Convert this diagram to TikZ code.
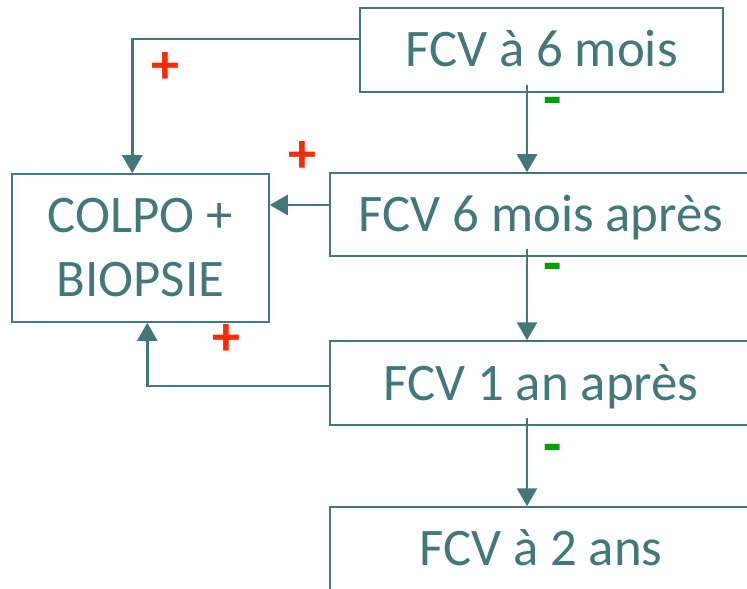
\documentclass[tikz,border=0pt]{standalone}
\usepackage{fontspec}
\setmainfont{Carlito}
\usetikzlibrary{arrows.meta,calc}
\definecolor{teal1}{RGB}{66,120,122}
\definecolor{red1}{RGB}{255,42,0}
\definecolor{green1}{RGB}{0,160,0}
\begin{document}
\begin{tikzpicture}[x=0.5pt,y=-0.5pt,
  box/.style={draw=teal1,line width=0.75pt,rectangle,inner sep=0pt,text=teal1,
    font=\fontsize{26.4}{32}\selectfont,align=center},
  onebox/.style={box,text height=17pt,text depth=0pt},
  conn/.style={draw=teal1,line width=1.25pt,-{Triangle[width=10pt,length=9pt]}},
  plus/.style={text=red1,font=\fontsize{28}{28}\selectfont\bfseries,inner sep=0pt},
  minus/.style={text=green1,font=\fontsize{30}{30}\selectfont\bfseries,inner sep=0pt}]
\useasboundingbox (0,0) rectangle (747,588);
\node[onebox,minimum width=181.5pt,minimum height=42pt] (b1) at (541.5,50) {FCV à 6 mois};
\node[onebox,minimum width=211pt,minimum height=41.5pt] (b2) at (541,214.5) {FCV 6 mois après};
\node[onebox,minimum width=211pt,minimum height=42pt] (b3) at (541,383) {FCV 1 an après};
\node[onebox,minimum width=211pt,minimum height=41.5pt] (b4) at (541,548.5) {FCV à 2 ans};
\node[box,minimum width=128.5pt,minimum height=74pt] (colpo) at (140.5,248) {COLPO +\\BIOPSIE};
\coordinate (ax) at (527,0);
\draw[conn] ($(b1.south -| ax)+(0,-8)$) -- (b2.north -| ax);
\draw[conn] ($(b2.south -| ax)+(0,-8)$) -- (b3.north -| ax);
\draw[conn] ($(b3.south -| ax)+(0,-8)$) -- (b4.north -| ax);
\draw[conn] ($(b1.west)+(0,-11)$) -| ($(colpo.north west)+(121,0)$);
\draw[conn] ($(b2.west)+(0,-9.5)$) -- ($(colpo.east)+(0,-43)$);
\draw[conn] ($(b3.west)+(0,3)$) -| ($(colpo.south west)+(136,0)$);
\node[plus] (p1) at (165,68) {+};
\node[plus] (p2) at (302,157) {+};
\node[plus] (p3) at (226,340) {+};
\node[minus] (m1) at (553,107) {-};
\node[minus] (m2) at (553,273) {-};
\node[minus] (m3) at (553,454) {-};
\end{tikzpicture}
\end{document}
